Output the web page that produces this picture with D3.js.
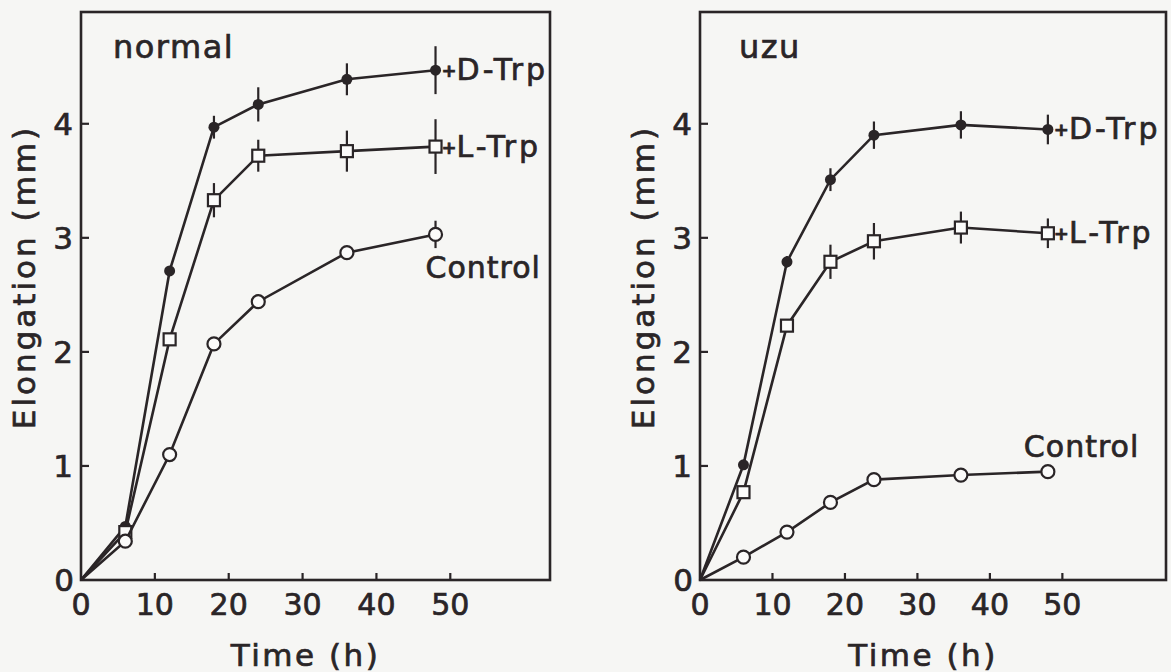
<!DOCTYPE html>
<html>
<head>
<meta charset="utf-8">
<script src="https://cdn.jsdelivr.net/npm/d3@7"></script>
<style>
  body { margin: 0; background: #f6f6f4; }
  svg { display: block; font-family: "DejaVu Sans", sans-serif; }
  svg text { stroke: #2a2527; stroke-width: 0.7px; }
</style>
</head>
<body>
<div class="wrapper"></div>
<script>
const width = 1171;
const height = 672;
const ink = "#2a2527";

// sampling times (h)
const times = [0, 6, 12, 18, 24, 36, 48];
const xTicks = [0, 10, 20, 30, 40, 50];
const yTicks = [0, 1, 2, 3, 4];

// normal
const normalDTrp = [0, 0.47, 2.71, 3.97, 4.17, 4.39, 4.47];
const normalDTrpErr = [0, 0.03, 0.04, 0.1, 0.15, 0.14, 0.21];
const normalLTrp = [0, 0.42, 2.11, 3.33, 3.72, 3.76, 3.8];
const normalLTrpErr = [0, 0, 0.03, 0.15, 0.14, 0.18, 0.24];
const normalControl = [0, 0.34, 1.1, 2.07, 2.44, 2.87, 3.03];
const normalControlErr = [0, 0, 0, 0.04, 0.06, 0.06, 0.12];

// uzu
const uzuDTrp = [0, 1.01, 2.79, 3.51, 3.9, 3.99, 3.95];
const uzuDTrpErr = [0, 0, 0.05, 0.1, 0.12, 0.12, 0.13];
const uzuLTrp = [0, 0.77, 2.23, 2.79, 2.97, 3.09, 3.04];
const uzuLTrpErr = [0, 0, 0.04, 0.15, 0.16, 0.14, 0.13];
const uzuControl = [0, 0.2, 0.42, 0.68, 0.88, 0.92, 0.95];
const uzuControlErr = [0, 0, 0, 0, 0, 0, 0];

const svg = d3.select(".wrapper")
  .append("svg")
  .attr("width", width)
  .attr("height", height);

function drawPanel(opts) {
  const { name, left, right, xMax, series, controlDx, controlDy, nameX } = opts;

  const x = d3.scaleLinear().domain([0, xMax]).range([left, right]);
  const y = d3.scaleLinear().domain([0, 4.98]).range([580, 12]);

  const g = svg.append("g");

  // frame
  g.append("rect")
    .attr("x", x(0)).attr("y", y(4.98))
    .attr("width", x(xMax) - x(0)).attr("height", y(0) - y(4.98))
    .attr("fill", "none").attr("stroke", ink).attr("stroke-width", 2.6);

  // y ticks (inside)
  g.selectAll(".yt").data(yTicks.slice(1)).join("line")
    .attr("x1", x(0)).attr("x2", x(0) + 8)
    .attr("y1", d => y(d)).attr("y2", d => y(d))
    .attr("stroke", ink).attr("stroke-width", 2.2);
  g.selectAll(".yl").data(yTicks).join("text")
    .attr("x", d => d === 0 ? x(0) - 7 : x(0) - 8)
    .attr("y", d => y(d) + 11)
    .attr("text-anchor", "end")
    .attr("font-size", 31)
    .attr("fill", ink)
    .text(d => d);

  // x ticks (inside)
  g.selectAll(".xt").data(xTicks.slice(1)).join("line")
    .attr("x1", d => x(d)).attr("x2", d => x(d))
    .attr("y1", y(0)).attr("y2", y(0) - 7)
    .attr("stroke", ink).attr("stroke-width", 2.2);
  g.selectAll(".xl").data(xTicks).join("text")
    .attr("x", d => x(d))
    .attr("y", y(0) + 35)
    .attr("text-anchor", "middle")
    .attr("font-size", 30)
    .attr("fill", ink)
    .text(d => d);

  // axis titles
  g.append("text")
    .attr("x", (x(0) + x(xMax)) / 2 - 10)
    .attr("y", 666)
    .attr("text-anchor", "middle")
    .attr("font-size", 31)
    .attr("letter-spacing", 2.5)
    .attr("fill", ink)
    .text("Time (h)");
  g.append("text")
    .attr("transform", `translate(${x(0) - 46},${277}) rotate(-90)`)
    .attr("text-anchor", "middle")
    .attr("font-size", 31)
    .attr("letter-spacing", 3)
    .attr("fill", ink)
    .text("Elongation (mm)");

  // panel name
  g.append("text")
    .attr("x", nameX)
    .attr("y", 58)
    .attr("font-size", 32)
    .attr("letter-spacing", 1.5)
    .attr("fill", ink)
    .text(name);

  const line = d3.line().x((d, i) => x(times[i])).y(d => y(d));

  series.forEach(s => {
    // error bars
    g.selectAll(null).data(s.values.map((v, i) => ({ v, e: s.err[i], t: times[i] })).filter(d => d.e > 0))
      .join("line")
      .attr("x1", d => x(d.t)).attr("x2", d => x(d.t))
      .attr("y1", d => y(d.v - d.e)).attr("y2", d => y(d.v + d.e))
      .attr("stroke", ink).attr("stroke-width", 2.2);

    g.append("path")
      .datum(s.values)
      .attr("d", line)
      .attr("fill", "none")
      .attr("stroke", ink)
      .attr("stroke-width", 2.6);

    const pts = s.values.map((v, i) => ({ v, t: times[i] })).filter(d => d.t > 0);
    if (s.marker === "dot") {
      g.selectAll(null).data(pts).join("circle")
        .attr("cx", d => x(d.t)).attr("cy", d => y(d.v)).attr("r", 5.5)
        .attr("fill", ink);
    } else if (s.marker === "square") {
      g.selectAll(null).data(pts).join("rect")
        .attr("x", d => x(d.t) - 6).attr("y", d => y(d.v) - 6)
        .attr("width", 12).attr("height", 12)
        .attr("fill", "#fbfbfa").attr("stroke", ink).attr("stroke-width", 2.2);
    } else {
      g.selectAll(null).data(pts).join("circle")
        .attr("cx", d => x(d.t)).attr("cy", d => y(d.v)).attr("r", 6.5)
        .attr("fill", "#fbfbfa").attr("stroke", ink).attr("stroke-width", 2.2);
    }

    // end label
    const last = s.values[s.values.length - 1];
    const lx = x(48);
    const ly = y(last);
    if (s.label === "Control") {
      g.append("text")
        .attr("x", lx + controlDx).attr("y", ly + controlDy)
        .attr("font-size", 30).attr("letter-spacing", 1)
        .attr("fill", ink)
        .text("Control");
    } else {
      const t = g.append("text")
        .attr("x", lx + 6).attr("y", ly + 10)
        .attr("font-size", 30)
        .attr("fill", ink);
      t.append("tspan").attr("font-size", 18).attr("font-weight", "bold").attr("dy", -3).text("+");
      t.append("tspan").attr("dy", 3).attr("letter-spacing", 3).text(s.label);
    }
  });
}

drawPanel({
  name: "normal", left: 81, right: 550, xMax: 63.5, nameX: 113,
  controlDx: -10, controlDy: 44,
  series: [
    { label: "D-Trp", values: normalDTrp, err: normalDTrpErr, marker: "dot" },
    { label: "L-Trp", values: normalLTrp, err: normalLTrpErr, marker: "square" },
    { label: "Control", values: normalControl, err: normalControlErr, marker: "circle" }
  ]
});

drawPanel({
  name: "uzu", left: 700, right: 1166, xMax: 64.3, nameX: 739,
  controlDx: -24, controlDy: -15,
  series: [
    { label: "D-Trp", values: uzuDTrp, err: uzuDTrpErr, marker: "dot" },
    { label: "L-Trp", values: uzuLTrp, err: uzuLTrpErr, marker: "square" },
    { label: "Control", values: uzuControl, err: uzuControlErr, marker: "circle" }
  ]
});
</script>
</body>
</html>
